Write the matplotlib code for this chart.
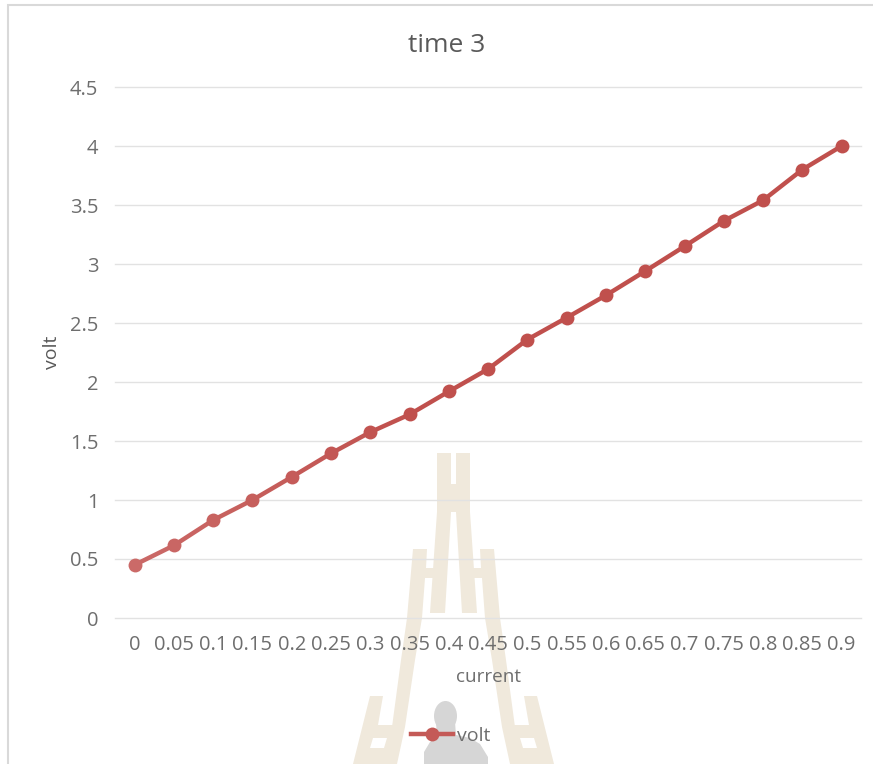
import numpy as np
import matplotlib
matplotlib.use('Agg')
import matplotlib.pyplot as plt
from matplotlib.colors import to_rgb
from matplotlib.patches import Ellipse, Polygon

plt.rcParams['font.family'] = ['Open Sans', 'DejaVu Sans']

current = ['0', '0.05', '0.1', '0.15', '0.2', '0.25', '0.3', '0.35', '0.4', '0.45',
           '0.5', '0.55', '0.6', '0.65', '0.7', '0.75', '0.8', '0.85', '0.9']
volt = [0.45, 0.615, 0.83, 1.0, 1.195, 1.395, 1.575, 1.725, 1.92, 2.11,
        2.36, 2.545, 2.735, 2.94, 3.15, 3.365, 3.54, 3.8, 4.0]
y_ticks = [0, 0.5, 1, 1.5, 2, 2.5, 3, 3.5, 4, 4.5]
y_labels = ['0', '0.5', '1', '1.5', '2', '2.5', '3', '3.5', '4', '4.5']

W, H = 873, 764
LIGHT = '#CB6A68'
DARK = '#C0504D'
SAND = '#F0E9DC'
AXIS = 453.5  # centre line of the emblem

fig = plt.figure(figsize=(W / 100, H / 100), dpi=100, facecolor='white')

# background layer in pixel units: frame and emblem
bg = fig.add_axes([0, 0, 1, 1], zorder=0)
bg.set_xlim(0, W)
bg.set_ylim(H, 0)
bg.axis('off')

bg.plot([8, 8, W], [H, 5, 5], color='#D9D9D9', lw=1.5, solid_joinstyle='miter')

centre = [(437, 453), (451, 453), (451, 484), (456, 484), (456, 453), (470, 453),
          (470, 512), (477, 613), (462, 613), (456, 512), (451, 512), (445, 613),
          (430, 613), (437, 512)]
bg.add_patch(Polygon(centre, color=SAND, lw=0))

band = [(413, 549), (427, 549), (426, 568), (436, 568), (435, 578), (425, 578),
        (422, 618), (415, 660), (405, 727), (397, 764), (383, 764), (392, 727),
        (401, 660), (407, 618)]
outer = [(370, 696), (383, 696), (378, 725), (397, 725), (385, 764), (353, 764)]
hole = [(373, 738), (387, 738), (384, 748), (370, 748)]
for pts, col in [(band, SAND), (outer, SAND), (hole, 'white')]:
    bg.add_patch(Polygon(pts, color=col, lw=0))
    mirrored = [(2 * AXIS - x, y) for x, y in pts]
    bg.add_patch(Polygon(mirrored, color=col, lw=0))

# figure in the middle of the emblem
bg.add_patch(Ellipse((445.5, 716), 23, 30, color='#D6D6D6', lw=0))
body = [(436, 722), (455, 722), (456, 735), (470, 738), (480, 744), (488, 757),
        (488, 764), (424, 764), (424, 752), (430, 742), (437, 736)]
bg.add_patch(Polygon(body, color='#D6D6D6', lw=0))

# main chart
ax = fig.add_axes([115 / W, 1 - 618 / H, 746.3 / W, 531 / H], zorder=1)
ax.patch.set_visible(False)
x = np.arange(len(current))

ax.set_xlim(-0.5, len(current) - 0.5)
ax.set_ylim(0, 4.5)
ax.set_yticks(y_ticks)
ax.set_yticklabels(y_labels)
ax.set_xticks(x)
ax.set_xticklabels(current)
ax.tick_params(length=0, labelsize=14.5, labelcolor='#6E6E6E')
ax.tick_params(axis='x', pad=12.5)
ax.tick_params(axis='y', pad=12)
ax.grid(axis='y', color='#E2E2E2', lw=1, clip_on=False)
ax.set_axisbelow(True)
for s in ax.spines.values():
    s.set_visible(False)

# the series fades towards the low end
c0, c1 = np.array(to_rgb(LIGHT)), np.array(to_rgb(DARK))
def shade(i):
    t = min(i / 7, 1)
    return tuple(c0 + (c1 - c0) * t)

for i in range(len(volt) - 1):
    ax.plot(x[i:i + 2], volt[i:i + 2], color=shade(i + 0.5), lw=3.2, solid_capstyle='round', zorder=3)
for i in range(len(volt)):
    ax.plot(x[i], volt[i], 'o', color=shade(i), ms=10, mew=0, zorder=4, clip_on=False)

fig.text(447 / W, 1 - 45 / H, 'time 3', fontsize=19, color='#595959', ha='center', va='center')
fig.text(488.5 / W, 1 - 677 / H, 'current', fontsize=13.6, color='#6E6E6E', ha='center', va='center')
fig.text(52 / W, 1 - 352 / H, 'volt', fontsize=14, color='#595959', ha='center', va='center', rotation=90)

handle, = ax.plot([], [], '-o', color='#C45A57', lw=3.2, ms=10, mew=0, label='volt')
leg = fig.legend(handles=[handle], loc='center', bbox_to_anchor=(451 / W, 1 - 736 / H),
                 frameon=False, fontsize=14, labelcolor='#6E6E6E',
                 handlelength=2.15, handletextpad=0.2, borderpad=0, borderaxespad=0)
leg.set_zorder(2)

fig.savefig('out.png', dpi=100)
